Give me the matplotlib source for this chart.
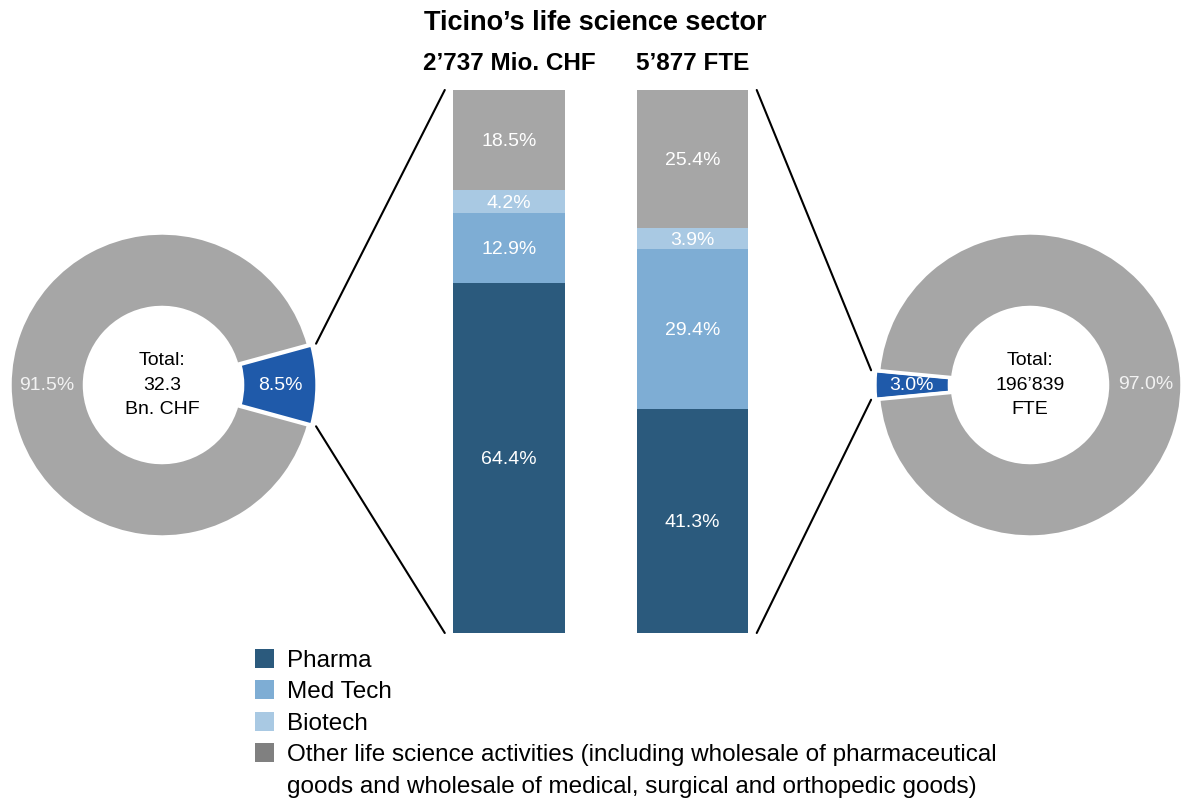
import matplotlib
matplotlib.use("Agg")
import matplotlib.pyplot as plt
from matplotlib.patches import Patch, ConnectionPatch
import numpy as np

plt.rcParams['font.family'] = ['Liberation Sans', 'DejaVu Sans']

# data
categories = ['Pharma', 'Med Tech', 'Biotech',
              'Other life science activities (including wholesale of pharmaceutical']
other_cont = 'goods and wholesale of medical, surgical and orthopedic goods)'
value_share = [64.4, 12.9, 4.2, 18.5]   # 2'737 Mio. CHF
fte_share = [41.3, 29.4, 3.9, 25.4]     # 5'877 FTE
value_donut = [8.5, 91.5]
fte_donut = [3.0, 97.0]
value_total = 'Total:\n32.3\nBn. CHF'
fte_total = "Total:\n196\u2019839\nFTE"
bar_titles = ["2\u2019737 Mio. CHF", "5\u2019877 FTE"]

bar_colors = ['#2B5A7D', '#7EADD4', '#A9C9E3', '#A6A6A6']
legend_colors = ['#2B5A7D', '#7EADD4', '#A9C9E3', '#808080']
grey = '#A6A6A6'
blue = '#1F5AAA'

W, H = 1185, 802
fig = plt.figure(figsize=(W / 100, H / 100), dpi=100)

def px_axes(cx, cy, half):
    return fig.add_axes([(cx - half) / W, 1 - (cy + half) / H, 2 * half / W, 2 * half / H])

# donuts
r_px = 152
lim = 1.05
half = r_px * lim

def donut(ax, vals, start, total_txt):
    wedges, texts, autotexts = ax.pie(
        vals, colors=[blue, grey], startangle=start, counterclock=True,
        explode=[0.02, 0], radius=1, autopct='%.1f%%', pctdistance=0.76,
        wedgeprops=dict(width=0.49, edgecolor='white', linewidth=2.5),
        textprops=dict(color='white', fontsize=14))
    autotexts[1].set_color('#F2F2F2')
    ax.set_xlim(-lim, lim)
    ax.set_ylim(-lim, lim)
    ax.set_aspect('equal')
    ax.axis('off')
    ax.text(0, 0, total_txt, ha='center', va='center', fontsize=14,
            linespacing=1.6, color='black')
    return wedges

ax_l = px_axes(162, 385, half)
w_l = donut(ax_l, value_donut, -value_donut[0] * 3.6 / 2, value_total)
ax_r = px_axes(1030, 385, half)
w_r = donut(ax_r, fte_donut, 180 - fte_donut[0] * 3.6 / 2, fte_total)

# stacked bars
bar_w = 0.61
ax_b = fig.add_axes([417.25 / W, 1 - 633 / H, 367 / W, 543 / H])
x = np.arange(2)
bottom = np.zeros(2)
for i, cat in enumerate(categories):
    vals = np.array([value_share[i], fte_share[i]])
    ax_b.bar(x, vals, bar_w, bottom=bottom, color=bar_colors[i], label=cat)
    for xi, v, b in zip(x, vals, bottom):
        ax_b.text(xi, b + v / 2 - 0.3, '%.1f%%' % v, ha='center', va='center',
                  color='white', fontsize=14)
    bottom += vals
ax_b.set_xlim(-0.5, 1.5)
ax_b.set_ylim(0, 100)
ax_b.axis('off')
for xi, t in zip(x, bar_titles):
    ax_b.text(xi, 104.8, t, ha='center', va='center', fontsize=17.5,
              fontweight='bold')
fig.text(595 / W, 1 - 23 / H, 'Ticino\u2019s life science sector', ha='center',
         va='center', fontsize=19.5, fontweight='bold')

# connector lines
def corner(w, ang, rr=1.03):
    a = np.deg2rad(ang)
    cx, cy = w.center
    return (cx + rr * np.cos(a), cy + rr * np.sin(a))

edge = bar_w / 2 + 0.045
for ax_p, w, xb in [(ax_l, w_l[0], -edge), (ax_r, w_r[0], 1 + edge)]:
    t1, t2 = w.theta1, w.theta2
    top_ang, bot_ang = (t2, t1) if xb < 0 else (t1, t2)
    for ang, yb in [(top_ang, 100), (bot_ang, 0)]:
        con = ConnectionPatch(xyA=corner(w, ang), coordsA=ax_p.transData,
                              xyB=(xb, yb), coordsB=ax_b.transData,
                              color='black', linewidth=1.5)
        fig.add_artist(con)

# legend (last label wraps onto a second row without a swatch)
handles = [Patch(facecolor=c, edgecolor='none') for c in legend_colors]
handles.append(Patch(facecolor='none', edgecolor='none'))
fig.legend(handles, categories + [other_cont], loc='upper left',
           bbox_to_anchor=(255 / W, 1 - 649 / H), frameon=False, fontsize=17.5,
           handlelength=0.8, handleheight=0.8, handletextpad=0.5,
           labelspacing=0.36, borderpad=0, borderaxespad=0)

fig.savefig('out.png', dpi=100)
